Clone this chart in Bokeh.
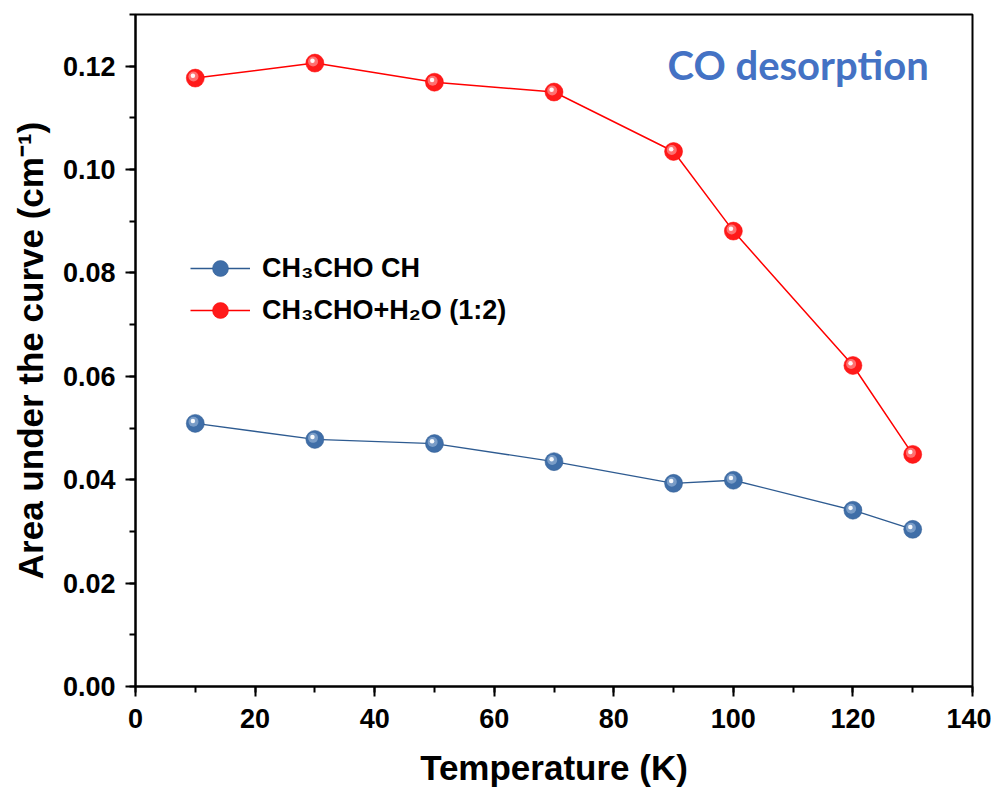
from bokeh.plotting import figure
from bokeh.models import (Range1d, SingleIntervalTicker, NumeralTickFormatter, Legend,
                          LegendItem, Label, ColumnDataSource)
from bokeh.transform import dodge
from bokeh.embed import file_html
from bokeh.resources import INLINE

temperature = [10, 30, 50, 70, 90, 100, 120, 130]
ch3cho_ch = [0.0509, 0.0478, 0.0470, 0.0435, 0.0393, 0.0399, 0.0341, 0.0304]
ch3cho_h2o = [0.1177, 0.1206, 0.1169, 0.1150, 0.1035, 0.0881, 0.0621, 0.0449]

series_names = ["CH\u2083CHO CH", "CH\u2083CHO+H\u2082O (1:2)"]
x_label = "Temperature (K)"
y_label = "Area under the curve (cm\u207b\u00b9)"
annotation = "CO desorption"

FONT = "Liberation Sans"

p = figure(width=991, height=789, output_backend="svg", toolbar_location=None,
           x_range=Range1d(0, 140), y_range=Range1d(0, 0.13),
           min_border_left=135, min_border_right=19, min_border_top=14,
           min_border_bottom=103)
p.background_fill_color = "white"
p.border_fill_color = "white"
p.outline_line_color = "black"
p.outline_line_width = 2
p.xgrid.visible = False
p.ygrid.visible = False

p.xaxis.ticker = SingleIntervalTicker(interval=20, num_minor_ticks=2)
p.yaxis.ticker = SingleIntervalTicker(interval=0.02, num_minor_ticks=2)
p.yaxis.formatter = NumeralTickFormatter(format="0.00")

for ax in (p.xaxis[0], p.yaxis[0]):
    ax.axis_line_width = 2
    ax.major_tick_line_width = 2
    ax.minor_tick_line_width = 2
    ax.major_tick_out = 10
    ax.major_tick_in = 0
    ax.minor_tick_out = 6
    ax.minor_tick_in = 0
    ax.major_label_text_font = FONT
    ax.major_label_text_font_style = "bold"
    ax.major_label_text_font_size = "27px"
    ax.major_label_text_color = "black"
    ax.axis_label_text_font = FONT
    ax.axis_label_text_font_style = "bold"
    ax.axis_label_text_color = "black"

p.xaxis.axis_label = x_label
p.xaxis.axis_label_text_font_size = "35px"
p.xaxis.major_label_standoff = 12
p.xaxis.axis_label_standoff = 17
p.yaxis.axis_label = y_label
p.yaxis.axis_label_text_font_size = "35px"
p.yaxis.major_label_standoff = 10
p.yaxis.axis_label_standoff = 10

src = ColumnDataSource(dict(t=temperature, a=ch3cho_ch, b=ch3cho_h2o))

styles = [("a", "#2e5b91", "#3f6ea8", "#a9c2e0", 1.3),
          ("b", "#ff0000", "#ff1a1a", "#ffb8b8", 1.5)]
items = []
for (col, line_c, base_c, hi_c, lw), name in zip(styles, series_names):
    r_line = p.line("t", col, source=src, line_color=line_c, line_width=lw)
    r_base = p.scatter("t", col, source=src, size=18, fill_color=base_c,
                       line_color=line_c, line_width=0.5)
    p.scatter(dodge("t", -0.3, range=p.x_range), dodge(col, 0.0003, range=p.y_range),
              source=src, size=10, fill_color=hi_c, fill_alpha=0.55, line_color=None)
    p.scatter(dodge("t", -0.4, range=p.x_range), dodge(col, 0.00045, range=p.y_range),
              source=src, size=4.5, fill_color="white", fill_alpha=0.95, line_color=None)
    items.append(LegendItem(label=name, renderers=[r_line, r_base]))

legend = Legend(items=items, location=(55, 356), glyph_width=60, glyph_height=40,
                label_height=40, spacing=2, padding=0, margin=0, label_standoff=12,
                label_text_font=FONT, label_text_font_style="bold",
                label_text_font_size="27px", label_text_color="black",
                border_line_color=None, background_fill_alpha=0)
p.add_layout(legend, "center")

p.add_layout(Label(x=89, y=0.1202, text=annotation, text_font="Lato",
                   text_font_style="bold", text_font_size="40px",
                   text_color="#4472c4", text_baseline="middle"))

open("out.html", "w").write(file_html(p, INLINE))
